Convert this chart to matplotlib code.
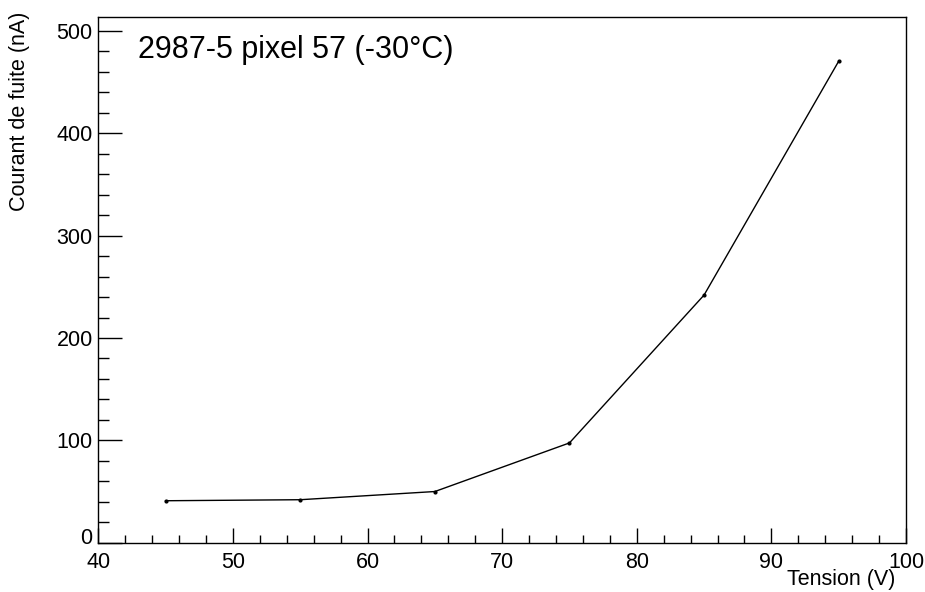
import matplotlib
matplotlib.use("Agg")
import matplotlib.pyplot as plt
from matplotlib.ticker import MultipleLocator, FuncFormatter

plt.rcParams['font.family'] = ['Liberation Sans', 'DejaVu Sans']

tension = [45, 55, 65, 75, 85, 95]
courant = [41, 42, 50, 97.5, 242, 470.5]
title = "2987-5 pixel 57 (-30°C)"
xlabel = "Tension (V)"
ylabel = "Courant de fuite (nA)"

fig = plt.figure(figsize=(9.25, 5.92), dpi=100)
ax = fig.add_axes([98.3/925, 1-542.7/592, (906-98.3)/925, (542.7-17.3)/592])

ax.plot(tension, courant, color='black', lw=1.0, marker='o', ms=2)

ax.set_xlim(40, 100)
ax.set_ylim(0, 513.4)
ax.xaxis.set_major_locator(MultipleLocator(10))
ax.xaxis.set_minor_locator(MultipleLocator(2))
ax.yaxis.set_major_locator(MultipleLocator(100))
ax.yaxis.set_minor_locator(MultipleLocator(20))
ax.yaxis.set_major_formatter(FuncFormatter(lambda v, p: '' if v == 0 else f'{v:.0f}'))

ax.tick_params(axis='x', which='major', direction='in', length=11, width=1, labelsize=15.5, pad=6.5)
ax.tick_params(axis='x', which='minor', direction='in', length=6, width=1)
ax.tick_params(axis='y', which='major', direction='in', length=17, width=1, labelsize=15.5, pad=4)
ax.tick_params(axis='y', which='minor', direction='in', length=8, width=1)
for s in ax.spines.values():
    s.set_linewidth(1.0)

# "0" label of the y axis, slightly lifted as in the reference
ax.annotate('0', xy=(0, 0), xycoords='axes fraction', xytext=(-4, 3),
            textcoords='offset points', ha='right', va='center', fontsize=15.5)

fig.text(138/925, 1-50/592, title, fontsize=22, ha='left', va='center')
fig.text(895/925, 1-579/592, xlabel, fontsize=15.5, ha='right', va='center')
fig.text(20/925, 1-12/592, ylabel, fontsize=15.5, ha='center', va='top', rotation=90)

fig.savefig('out.png', dpi=100)
